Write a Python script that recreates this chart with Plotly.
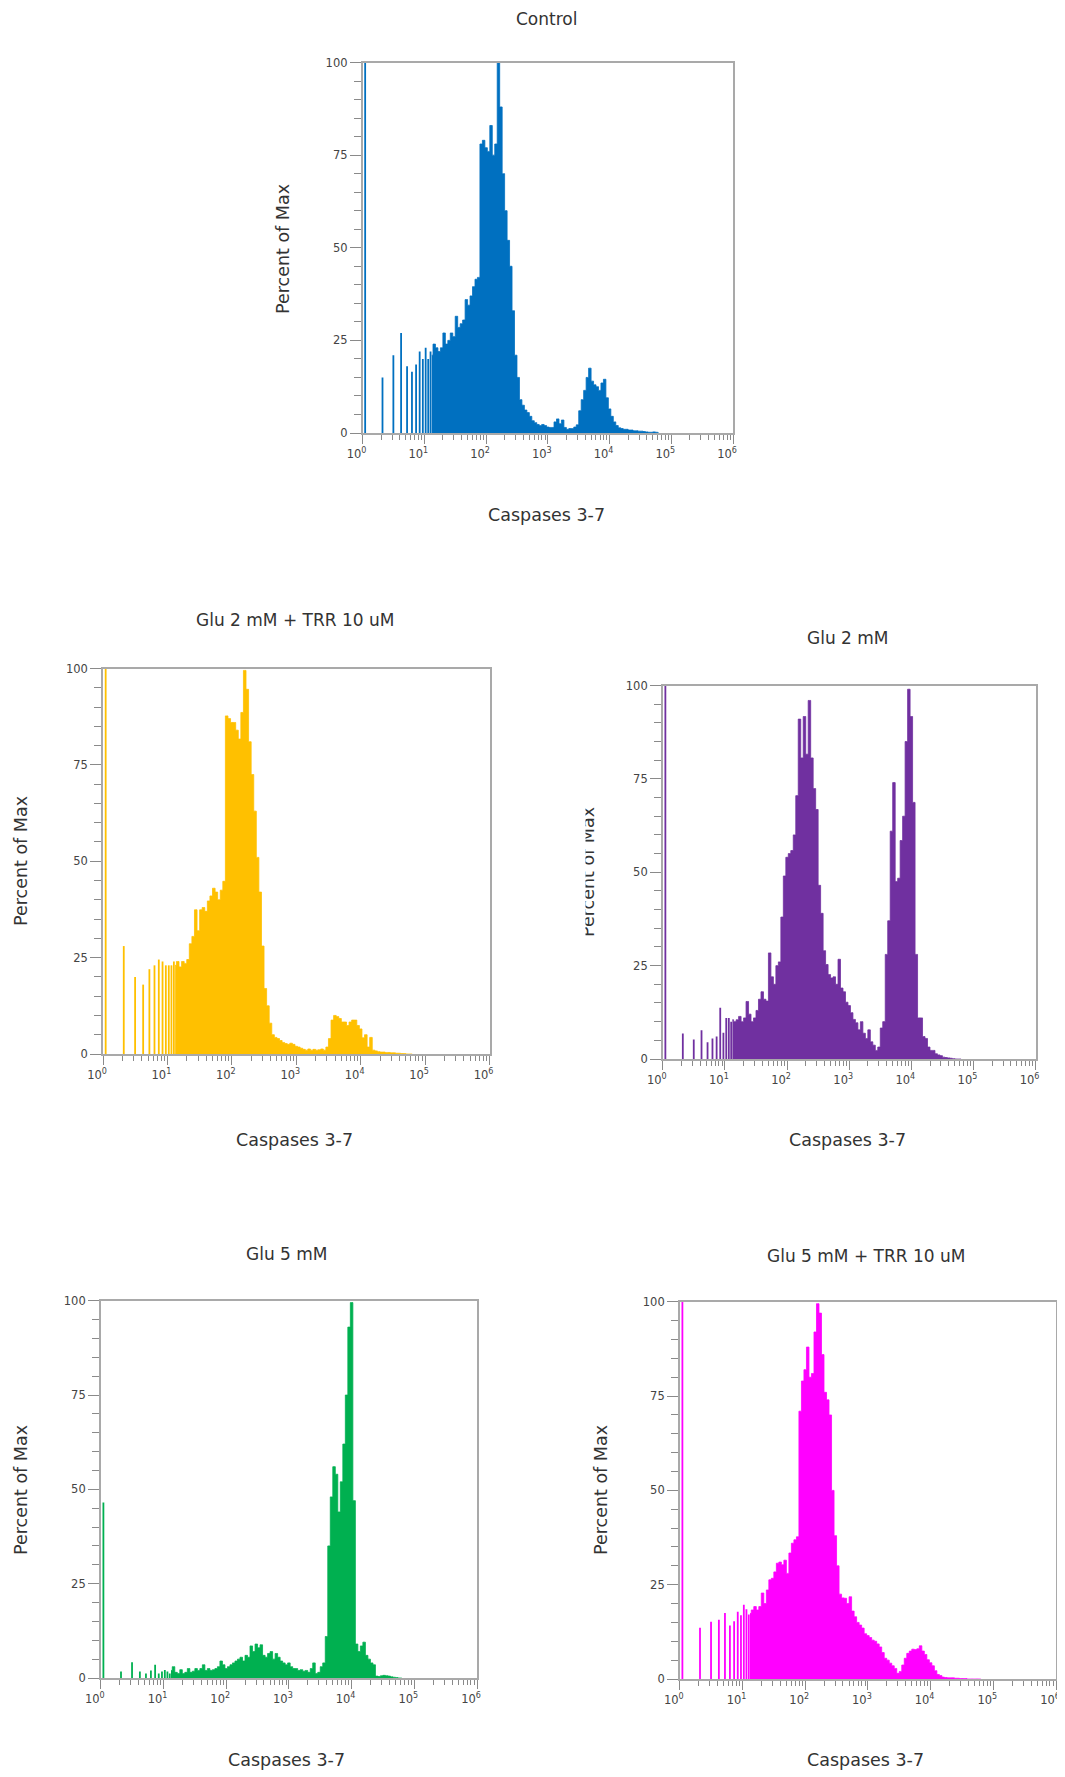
import plotly.graph_objects as go

# ---------------- DATA ----------------
# Histogram bin centres (log10 of Caspases 3-7 fluorescence), shared by all panels
bin_log10 = [1.12, 1.16, 1.20, 1.24, 1.28, 1.32, 1.36, 1.40, 1.44, 1.48,
             1.52, 1.56, 1.60, 1.64, 1.68, 1.72, 1.76, 1.80, 1.84, 1.88,
             1.92, 1.96, 2.00, 2.04, 2.08, 2.12, 2.16, 2.20, 2.24, 2.28,
             2.32, 2.36, 2.40, 2.44, 2.48, 2.52, 2.56, 2.60, 2.64, 2.68,
             2.72, 2.76, 2.80, 2.84, 2.88, 2.92, 2.96, 3.00, 3.04, 3.08,
             3.12, 3.16, 3.20, 3.24, 3.28, 3.32, 3.36, 3.40, 3.44, 3.48,
             3.52, 3.56, 3.60, 3.64, 3.68, 3.72, 3.76, 3.80, 3.84, 3.88,
             3.92, 3.96, 4.00, 4.04, 4.08, 4.12, 4.16, 4.20, 4.24, 4.28,
             4.32, 4.36, 4.40, 4.44, 4.48, 4.52, 4.56, 4.60, 4.64, 4.68,
             4.72, 4.76, 4.80]

# Discrete low-intensity channels (drawn as single spikes)
channel_values = [1.1, 2.1, 3.15, 4.2, 5.25, 6.3, 7.35, 8.4, 9.45, 10.5, 11.55, 12.6]

titles = ["Control", "Glu 2 mM + TRR 10 uM", "Glu 2 mM", "Glu 5 mM", "Glu 5 mM + TRR 10 uM"]
x_axis_title = "Caspases 3-7"
y_axis_title = "Percent of Max"
x_tick_values = [1, 10, 100, 1000, 10000, 100000, 1000000]
x_tick_labels = ["10<sup>0</sup>", "10<sup>1</sup>", "10<sup>2</sup>", "10<sup>3</sup>",
                 "10<sup>4</sup>", "10<sup>5</sup>", "10<sup>6</sup>"]
y_tick_values = [0, 25, 50, 75, 100]
y_tick_labels = ["0", "25", "50", "75", "100"]

control_spikes = [100, 15, 21, 27, 18, 16.5, 18.5, 22, 20, 23, 20, 22]
control_hist = [21, 24, 23, 22, 23, 27, 24, 25, 27, 26,
                31.5, 28.5, 29.5, 30.5, 36, 34.5, 37, 39.5, 41.5, 42,
                78, 79, 77, 76, 83, 75, 78, 100, 88, 70,
                60, 52, 45, 33, 21, 15, 9, 7.5, 6.2, 5.5,
                4.5, 3.3, 2.8, 2.3, 2.0, 2.3, 2.0, 1.6, 1.5, 1.5,
                3, 3.8, 2.5, 3.5, 1.5, 1.0, 1.2, 1.2, 1.6, 2.2,
                6, 9, 11.5, 15, 17.5, 14, 13, 12.5, 11.5, 13.5,
                14.5, 9.5, 6.5, 4.5, 3, 2, 1.4, 1.2, 1.0, 1.0,
                0.8, 0.8, 0.6, 0.6, 0.5, 0.5, 0.4, 0.3, 0.2, 0.2,
                0.3, 0.2, 0]

glu2_trr_spikes = [100, 28, 20, 18, 22, 23, 24.5, 24, 23, 23, 23, 24]
glu2_trr_hist = [23, 24, 22.6, 24, 23.5, 24.5, 28.6, 30.5, 37.4, 32,
                 37.4, 38, 37, 39.7, 41, 43, 42, 40, 42.5, 44.8,
                 87.7, 87, 86, 86, 84, 81.7, 88.6, 99.5, 94.6, 81,
                 72.5, 63, 51, 42, 28, 17, 12.5, 8, 5, 4.3,
                 4.0, 3.5, 3.0, 2.7, 2.5, 2.8, 2.5, 2.0, 1.8, 1.5,
                 1.2, 1.0, 1.3, 1.0, 1.2, 1.0, 1.1, 1.3, 1.0, 1.8,
                 4, 8.8, 10, 9.7, 9.2, 8.3, 8.3, 7.4, 8.3, 8.8,
                 8.8, 7.4, 6.5, 4.2, 5, 1.8, 4.3, 1, 0.8, 0.6,
                 0.5, 0.5, 0.4, 0.4, 0.3, 0.3, 0.2, 0.2, 0.1, 0.1,
                 0, 0, 0]

glu2_spikes = [100, 6.8, 5.2, 7.7, 4.5, 5.5, 6, 13.7, 7, 11, 11, 10]
glu2_hist = [10.5, 10, 10.5, 11.4, 10, 11, 15.4, 12, 10, 11,
             13, 16, 18, 16, 15.5, 28.4, 22, 20, 25, 26,
             38, 49, 54, 55, 55.8, 60, 70.5, 91, 80.6, 91.7,
             81.6, 96, 80.6, 72.4, 66.8, 46.5, 39, 29, 25.3, 22.6,
             21.7, 22, 20, 26.7, 19, 18, 15.2, 14.3, 12.4, 10.6,
             9.7, 7.8, 10, 6.9, 5.5, 7.8, 4.6, 3.7, 2.3, 3.2,
             8.3, 10, 28, 37, 61, 74, 47.5, 48.4, 58.5, 65,
             85, 99, 91.7, 68.7, 28, 11, 11, 6, 5.5, 3.2,
             2.3, 2.3, 1.4, 1.1, 0.9, 0.5, 0.4, 0.3, 0.2, 0.1,
             0, 0, 0]

glu5_spikes = [46.5, 1.7, 4.2, 1.7, 1.2, 2, 3.5, 1.2, 1.7, 2.1, 1.7, 1.2]
glu5_hist = [2, 3, 1.5, 1.2, 2.2, 1.2, 1.5, 2.5, 1.5, 1.8,
             2.5, 2, 2.5, 3.5, 2, 2.5, 2, 2.2, 2.5, 3,
             4.5, 3.5, 2.5, 3, 3.5, 4, 4.5, 5, 5.5, 4.5,
             6, 5.5, 8.5, 7, 9, 8, 8.8, 6, 5.5, 6.5,
             7, 5, 6.5, 5.5, 4.5, 4, 3.5, 4, 3, 2.5,
             2.5, 2, 2.2, 1.8, 2, 1.5, 2.5, 4, 1.2, 1.5,
             3, 4, 11, 35, 48, 56, 54, 44, 52, 62,
             75, 93, 99.5, 47, 9, 7, 8.5, 9.5, 6, 5,
             4, 3.5, 0.5, 0.4, 0.6, 0.7, 0.6, 0.5, 0.3, 0.2,
             0.1, 0, 0]

glu5_trr_spikes = [100, 13.6, 15.2, 15.7, 17.5, 14.2, 15.3, 17.8, 16.9, 19.7, 18.5, 17.1]
glu5_trr_hist = [17.4, 18.3, 19.2, 18.3, 19.2, 22.8, 20, 23.6, 26.3, 26.7,
                 28.4, 30.7, 31, 30.3, 31.5, 28, 33.4, 36, 36.9, 37.7,
                 71, 79, 82, 88, 80, 81, 92, 99.5, 97, 86,
                 76, 74, 70, 50, 38, 30, 22.5, 21.5, 21.4, 20,
                 21.8, 18, 16.5, 15, 14.3, 13.5, 12, 11.5, 11, 10.3,
                 10, 9.3, 8.5, 7, 5.5, 5, 4.2, 3.5, 2.8, 1.5,
                 2, 3.7, 5.5, 6.8, 7.4, 7.9, 7.8, 8, 8.8, 7.4,
                 6.5, 5.1, 4.3, 3.5, 2.2, 1.2, 0.9, 0.5, 0.4, 0.3,
                 0.3, 0.3, 0.2, 0.2, 0.1, 0.1, 0.1, 0, 0, 0,
                 0, 0, 0]

# ---------------- LAYOUT / STYLE ----------------
PAGE_W, PAGE_H = 1065, 1777
OFF = 8                      # default page margin around the plot div
W, H = PAGE_W - OFF, PAGE_H - OFF
FONT = "DejaVu Sans"
TEXT_COLOR = "#333333"
FRAME = "#a9a9a9"
TICK = "#8a8a8a"


def px(x):
    return (x - OFF) / W


def py(y):
    return 1 - (y - OFF) / H


# (left, right, top, bottom) of each plot box in page pixels, title / axis-title centres
panels = [
    dict(box=(362.6, 733.1, 62.5, 433), title_xy=(546, 19.5), xt_xy=(546, 515), yt_xy=(283, 249),
         color="#0070C0", spikes=control_spikes, hist=control_hist, title=titles[0]),
    dict(box=(103, 489.5, 668.5, 1054), title_xy=(294.6, 620), xt_xy=(294.6, 1140), yt_xy=(21, 861),
         color="#FFC000", spikes=glu2_trr_spikes, hist=glu2_trr_hist, title=titles[1]),
    dict(box=(662.8, 1035.6, 685.5, 1059), title_xy=(847.5, 638), xt_xy=(847.5, 1140), yt_xy=(588, 872),
         color="#7030A0", spikes=glu2_spikes, hist=glu2_hist, title=titles[2]),
    dict(box=(100.8, 477, 1300.7, 1678), title_xy=(286.6, 1253.5), xt_xy=(286.6, 1760), yt_xy=(21, 1490),
         color="#00B050", spikes=glu5_spikes, hist=glu5_hist, title=titles[3]),
    dict(box=(679.8, 1056, 1301.8, 1679), title_xy=(865.6, 1255.5), xt_xy=(865.6, 1760), yt_xy=(601, 1490),
         color="#FF00FF", spikes=glu5_trr_spikes, hist=glu5_trr_hist, title=titles[4]),
]

fig = go.Figure()
annotations = []
layout_axes = {}

x_minor_vals = [m * 10 ** k for k in range(6) for m in range(2, 10)]
y_minor_vals = [v for v in range(5, 100, 5) if v % 25 != 0]

for i, p in enumerate(panels):
    n = "" if i == 0 else str(i + 1)
    xa, ya = "x" + n, "y" + n
    left, right, top, bottom = p["box"]

    # continuous histogram part
    hx = [10 ** v for v in bin_log10]
    fig.add_trace(go.Scatter(
        x=hx, y=p["hist"], xaxis=xa, yaxis=ya, mode="lines",
        line=dict(color=p["color"], width=0.8, shape="hvh"),
        fill="tozeroy", fillcolor=p["color"], hoverinfo="skip", showlegend=False))

    # discrete low channels as spikes
    sx, sy = [], []
    for c, h in zip(channel_values, p["spikes"]):
        sx += [c, c, None]
        sy += [0, h, None]
    fig.add_trace(go.Scatter(
        x=sx, y=sy, xaxis=xa, yaxis=ya, mode="lines",
        line=dict(color=p["color"], width=1.8), hoverinfo="skip", showlegend=False))

    layout_axes["xaxis" + n] = dict(
        domain=[px(left), px(right)], anchor=ya, type="log", range=[0, 6], automargin=False,
        showgrid=False, zeroline=False, showline=True, linecolor=FRAME, linewidth=1.5, mirror=True,
        ticks="outside", ticklen=9, tickcolor=TICK, tickwidth=1,
        tickmode="array", tickvals=x_tick_values, ticktext=x_tick_labels,
        ticklabeloverflow="allow", ticklabelshift=-6,
        tickfont=dict(family=FONT, size=11.5, color="#444444"),
        minor=dict(tickmode="array", tickvals=x_minor_vals, ticks="outside", ticklen=5,
                   tickcolor=TICK, tickwidth=1, showgrid=False),
        fixedrange=True)
    layout_axes["yaxis" + n] = dict(
        domain=[py(bottom), py(top)], anchor=xa, range=[0, 100], automargin=False,
        showgrid=False, zeroline=False, showline=True, linecolor=FRAME, linewidth=1.5, mirror=True,
        ticks="outside", ticklen=11, tickcolor=TICK, tickwidth=1,
        tickmode="array", tickvals=y_tick_values, ticktext=y_tick_labels,
        tickfont=dict(family=FONT, size=11.5, color="#444444"),
        minor=dict(tickmode="array", tickvals=y_minor_vals, ticks="outside", ticklen=7,
                   tickcolor=TICK, tickwidth=1, showgrid=False),
        fixedrange=True)

    tx, ty = p["title_xy"]
    annotations.append(dict(text=p["title"], x=px(tx), y=py(ty), xref="paper", yref="paper",
                            xanchor="center", yanchor="middle", showarrow=False,
                            font=dict(family=FONT, size=17, color=TEXT_COLOR)))
    xx, xy = p["xt_xy"]
    annotations.append(dict(text=x_axis_title, x=px(xx), y=py(xy), xref="paper", yref="paper",
                            xanchor="center", yanchor="middle", showarrow=False,
                            font=dict(family=FONT, size=17.5, color=TEXT_COLOR)))
    yx, yy = p["yt_xy"]
    annotations.append(dict(text=y_axis_title, x=px(yx), y=py(yy), xref="paper", yref="paper",
                            xanchor="center", yanchor="middle", showarrow=False, textangle=-90,
                            font=dict(family=FONT, size=17.5, color=TEXT_COLOR)))

# the "Glu 2 mM" axis title is partly hidden in the original figure
annotations.append(dict(text=" ", x=px(576), y=py(872), xref="paper", yref="paper",
                        xanchor="center", yanchor="middle", showarrow=False,
                        width=18, height=160, bgcolor="white", borderpad=0,
                        font=dict(family=FONT, size=10)))

fig.update_layout(
    width=W, height=H, autosize=False,
    margin=dict(l=0, r=0, t=0, b=0, pad=0, autoexpand=False),
    paper_bgcolor="white", plot_bgcolor="white",
    annotations=annotations, showlegend=False, hovermode=False,
    **layout_axes)

fig.write_html("out.html")
